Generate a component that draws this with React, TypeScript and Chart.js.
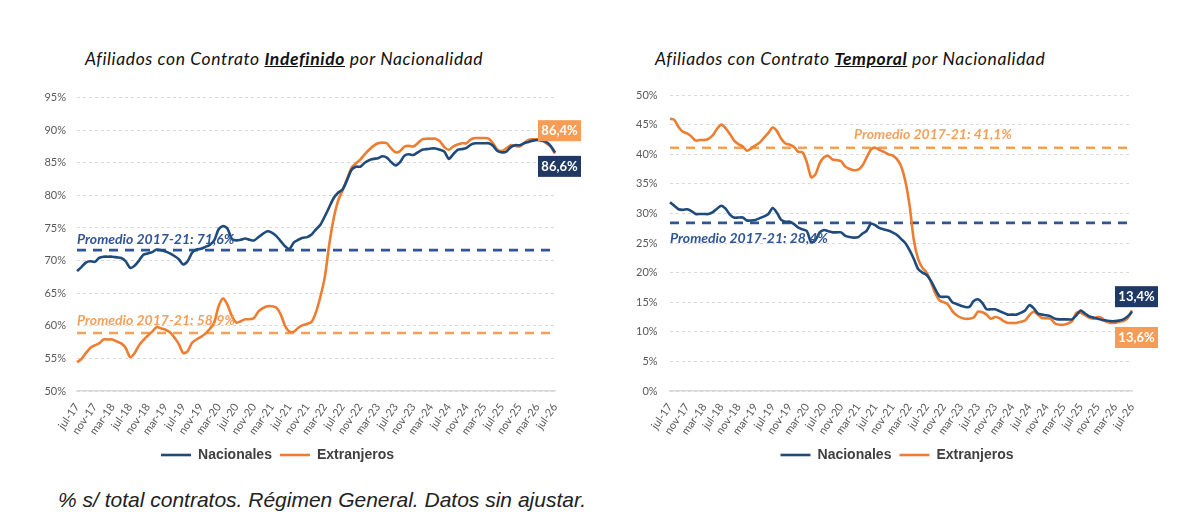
import React, { useEffect, useRef } from 'react';
import { Chart, ChartConfiguration, registerables } from 'chart.js';

Chart.register(...registerables);

// monthly categories jul-17 .. jul-26
const MONTHS = ['ene', 'feb', 'mar', 'abr', 'may', 'jun', 'jul', 'ago', 'sep', 'oct', 'nov', 'dic'];
const categories = Array.from({ length: 109 }, (_, i) => `${MONTHS[(6 + i) % 12]}-${17 + Math.floor((6 + i) / 12)}`);
const TICK_EVERY = 4;

// % of contracts
const indefNacionales = [
  68.4, 69.0, 69.7, 69.9, 69.8, 70.4, 70.6, 70.6, 70.6, 70.5,
  70.4, 69.9, 68.9, 69.2, 70.0, 70.9, 71.1, 71.3, 71.7, 71.6,
  71.4, 71.1, 70.7, 70.2, 69.4, 69.9, 71.2, 71.7, 71.8, 72.1,
  72.4, 73.1, 74.8, 75.3, 74.9, 73.3, 73.1, 73.2, 73.4, 73.2,
  73.1, 73.6, 74.1, 74.5, 74.3, 73.8, 73.0, 72.2, 71.8, 72.8,
  73.2, 73.5, 73.6, 74.0, 74.8, 75.5, 76.8, 78.2, 79.6, 80.4,
  80.9, 82.3, 83.9, 84.4, 84.4, 85.0, 85.4, 85.6, 85.7, 86.0,
  85.8, 85.1, 84.6, 85.1, 86.1, 86.3, 86.2, 86.6, 87.0, 87.1,
  87.2, 87.2, 87.0, 86.7, 85.6, 86.3, 87.0, 87.1, 87.3, 87.8,
  88.0, 88.0, 88.0, 88.0, 87.6, 86.8, 86.6, 86.7, 87.4, 87.7,
  87.7, 88.0, 88.2, 88.4, 88.5, 88.4, 88.2, 87.6, 86.6,
];
const indefExtranjeros = [
  54.4, 54.9, 55.8, 56.6, 57.0, 57.3, 57.9, 57.9, 57.9, 57.6,
  57.3, 56.6, 55.2, 55.8, 57.0, 57.8, 58.5, 59.1, 59.8, 59.6,
  59.4, 59.0, 58.2, 57.2, 55.8, 56.1, 57.4, 57.9, 58.3, 58.8,
  59.5, 60.5, 63.0, 64.2, 63.2, 61.5, 60.5, 60.7, 61.0, 61.0,
  61.2, 62.2, 62.7, 63.0, 63.0, 62.8, 61.8, 60.0, 59.1, 59.1,
  59.7, 60.1, 60.3, 60.6, 62.1, 64.5, 67.5, 72.5, 76.5, 79.2,
  80.8, 82.5, 84.2, 84.9, 85.5, 86.3, 87.0, 87.6, 88.0, 88.1,
  88.0, 87.2, 86.6, 86.8, 87.5, 87.6, 87.5, 88.0, 88.6, 88.7,
  88.7, 88.7, 88.3, 87.4, 87.0, 87.5, 87.8, 88.0, 88.0, 88.6,
  88.8, 88.8, 88.8, 88.7, 88.0, 87.0, 86.8, 87.2, 87.7, 87.6,
  87.5, 88.0, 88.5, 88.6, 88.6, 88.5, 88.0, 87.5, 86.4,
];
const tempNacionales = [
  31.9, 31.3, 30.7, 30.6, 30.7, 30.4, 29.9, 29.9, 29.9, 29.9,
  30.2, 30.8, 31.3, 30.8, 29.8, 29.3, 29.3, 29.3, 28.8, 28.8,
  28.9, 29.2, 29.5, 29.9, 30.9, 30.1, 28.9, 28.6, 28.6, 28.2,
  27.6, 27.3, 27.0, 25.1, 25.5, 26.8, 27.2, 27.0, 26.8, 26.8,
  26.8, 26.2, 26.0, 25.9, 26.0, 26.6, 27.1, 28.3, 28.0, 27.5,
  27.3, 27.1, 26.8, 26.4, 25.7, 25.0, 23.8, 22.3, 20.6, 20.0,
  19.6, 18.6, 17.2, 16.0, 15.9, 15.9, 15.0, 14.7, 14.4, 14.2,
  14.2, 15.2, 15.5, 14.9, 13.8, 13.8, 13.8, 13.5, 13.2, 12.9,
  12.9, 12.9, 13.2, 13.6, 14.5, 14.0, 13.1, 12.9, 12.8, 12.6,
  12.2, 12.1, 12.1, 12.1, 12.1, 12.8, 13.6, 13.1, 12.6, 12.4,
  12.2, 12.0, 11.9, 11.8, 11.8, 11.9, 12.1, 12.6, 13.4,
];
const tempExtranjeros = [
  46.0, 45.8, 44.6, 43.8, 43.5, 43.0, 42.3, 42.4, 42.4, 42.6,
  43.2, 44.3, 45.0, 44.4, 43.4, 42.3, 41.7, 41.3, 40.6, 41.0,
  41.5, 42.0, 42.8, 43.6, 44.5, 43.9, 42.6, 41.8, 41.6, 41.2,
  40.4, 40.3, 38.6, 36.1, 36.6, 38.5, 39.5, 39.7, 39.1, 39.0,
  38.8, 37.9, 37.5, 37.3, 37.4, 38.1, 39.5, 40.8, 41.1, 40.7,
  40.4, 40.0, 39.8, 39.2, 38.0, 35.5, 31.4, 25.5, 22.3, 20.8,
  20.0, 18.4, 16.5, 15.3, 15.0, 14.6, 13.5, 12.8, 12.4, 12.2,
  12.2, 12.4, 13.4, 13.3, 12.9, 12.2, 12.5, 12.3, 11.8, 11.5,
  11.5, 11.5, 11.7, 11.9, 12.8, 13.4, 12.9, 12.3, 12.3, 12.2,
  11.4, 11.2, 11.2, 11.4, 11.8, 13.2, 13.2, 12.8, 12.4, 12.2,
  12.5, 12.3, 11.7, 11.5, 11.5, 11.7, 11.8, 12.3, 13.6,
];

// 2017-21 averages
const indefAvg = { nac: 71.6, ext: 58.9 };
const tempAvg = { nac: 28.4, ext: 41.1 };

const BLUE = '#1f4a7c';
const ORANGE = '#ed7d31';
const BLUE_AVG = '#2f5597';
const ORANGE_AVG = '#f5a05a';
const NAVY_BOX = '#1f3864';
const ORANGE_BOX = '#f59d56';

interface Note {
  text: string;
  value: number;
  color: string;
  index?: number;
  dy: number;
}

interface EndBox {
  text: string;
  dataset: number;
  color: string;
  dy: number;
}

// draws the "Promedio" texts and the end value boxes
const notesPlugin = {
  id: 'notes',
  afterDatasetsDraw(chart: any, _args: any, opts: any) {
    const { ctx, chartArea, scales } = chart;
    ctx.save();
    (opts.notes || []).forEach((n: Note) => {
      ctx.font = 'italic bold 14px Lato';
      ctx.fillStyle = n.color;
      ctx.textAlign = 'left';
      ctx.textBaseline = 'middle';
      const px = n.index != null ? scales.x.getPixelForValue(n.index) : chartArea.left;
      ctx.fillText(n.text, px, scales.y.getPixelForValue(n.value) + n.dy);
    });
    (opts.boxes || []).forEach((b: EndBox) => {
      const pts = chart.getDatasetMeta(b.dataset).data;
      const last = pts[pts.length - 1];
      const bx = last.x - 17;
      const by = last.y + b.dy - 10.5;
      ctx.fillStyle = b.color;
      ctx.fillRect(bx, by, 43, 21);
      ctx.fillStyle = '#ffffff';
      ctx.font = 'bold 13px Lato';
      ctx.textAlign = 'center';
      ctx.fillText(b.text, bx + 21.5, by + 11);
    });
    ctx.restore();
  },
};

interface PanelProps {
  left: number;
  nacionales: number[];
  extranjeros: number[];
  avg: { nac: number; ext: number };
  min: number;
  max: number;
  padding: { left: number; right: number; top: number; bottom: number };
  yWidth: number;
  mirrorTicks?: boolean;
  notes: Note[];
  boxes: EndBox[];
}

const ChartPanel: React.FC<PanelProps> = ({ left, nacionales, extranjeros, avg, min, max, padding, yWidth, mirrorTicks = false, notes, boxes }) => {
  const chartRef = useRef<HTMLCanvasElement | null>(null);

  useEffect(() => {
    if (!chartRef.current) return;
    const lineDs = (label: string, data: number[], color: string) => ({
      label,
      data,
      borderColor: color,
      backgroundColor: color,
      borderWidth: 2.6,
      pointRadius: 0,
      tension: 0.25,
    });
    const avgDs = (value: number, color: string) => ({
      label: 'Promedio',
      data: categories.map(() => value),
      borderColor: color,
      borderWidth: 2.6,
      borderDash: [9, 7],
      pointRadius: 0,
    });

    const config: ChartConfiguration = {
      type: 'line',
      data: {
        labels: categories,
        datasets: [
          lineDs('Nacionales', nacionales, BLUE),
          lineDs('Extranjeros', extranjeros, ORANGE),
          avgDs(avg.nac, BLUE_AVG),
          avgDs(avg.ext, ORANGE_AVG),
        ] as any,
      },
      options: {
        responsive: false,
        animation: false,
        layout: { padding },
        plugins: {
          legend: {
            position: 'bottom',
            labels: {
              filter: (item: any) => item.datasetIndex < 2,
              usePointStyle: true,
              pointStyle: 'line',
              pointStyleWidth: 30,
              boxHeight: 3,
              color: '#404040',
              padding: 8,
              font: { family: 'Liberation Sans', size: 14, weight: 'bold' },
            },
          },
          tooltip: { enabled: false },
          notes: { notes, boxes },
        } as any,
        scales: {
          x: {
            grid: { display: false },
            border: { display: true, color: '#d9d9d9', width: 1.5 },
            afterFit: (scale: any) => {
              scale.height = 49;
            },
            ticks: {
              autoSkip: false,
              minRotation: 55,
              maxRotation: 55,
              padding: 2,
              color: '#595959',
              font: { family: 'Lato', size: 11 },
              callback: (_v: any, i: number) => (i % TICK_EVERY === 0 ? categories[i] : ''),
            },
          },
          y: {
            min,
            max,
            afterFit: (scale: any) => {
              scale.width = yWidth;
            },
            grid: { color: '#d9d9d9', drawTicks: false },
            border: { display: false, dash: [3, 3] },
            ticks: {
              stepSize: 5,
              // mirrored ticks are not clipped to the (narrow) axis box
              mirror: mirrorTicks,
              crossAlign: mirrorTicks ? 'far' : 'near',
              padding: mirrorTicks ? -34 : 11,
              color: '#595959',
              font: { family: 'Lato', size: 11 },
              callback: (v: any) => `${v}%`,
            },
          },
        },
      },
      plugins: [notesPlugin as any],
    };

    const chart = new Chart(chartRef.current, config);
    return () => chart.destroy();
  }, [nacionales, extranjeros, avg, min, max, padding, yWidth, mirrorTicks, notes, boxes]);

  return (
    <canvas
      ref={chartRef}
      width={600}
      height={392}
      style={{ position: 'absolute', left, top: 80, width: 600, height: 392 }}
    />
  );
};

const titleStyle: React.CSSProperties = {
  position: 'absolute',
  top: 48,
  font: 'italic 17.5px Lato',
  letterSpacing: '0.6px',
  color: '#111',
  whiteSpace: 'nowrap',
};

const fmt = (v: number) => `${v.toFixed(1).replace('.', ',')}%`;

export default function App() {
  const last = indefNacionales.length - 1;
  return (
    <div style={{ position: 'fixed', left: 0, top: 0, width: 1200, height: 528, background: '#fff', overflow: 'hidden' }}>
      <div style={{ ...titleStyle, left: 85 }}>
        Afiliados con Contrato <b><u>Indefinido</u></b> por Nacionalidad
      </div>
      <div style={{ ...titleStyle, left: 655 }}>
        Afiliados con Contrato <b><u>Temporal</u></b> por Nacionalidad
      </div>
      <ChartPanel
        left={0}
        nacionales={indefNacionales}
        extranjeros={indefExtranjeros}
        avg={indefAvg}
        min={50}
        max={95}
        padding={{ left: 0, right: 45, top: 12, bottom: 0 }}
        yWidth={77}
        notes={[
          { text: `Promedio 2017-21: ${fmt(indefAvg.nac)}`, value: indefAvg.nac, color: BLUE_AVG, dy: -11 },
          { text: `Promedio 2017-21: ${fmt(indefAvg.ext)}`, value: indefAvg.ext, color: ORANGE_AVG, dy: -12 },
        ]}
        boxes={[
          { text: fmt(indefExtranjeros[last]), dataset: 1, color: ORANGE_BOX, dy: -23 },
          { text: fmt(indefNacionales[last]), dataset: 0, color: NAVY_BOX, dy: 14 },
        ]}
      />
      <ChartPanel
        left={600}
        nacionales={tempNacionales}
        extranjeros={tempExtranjeros}
        avg={tempAvg}
        min={0}
        max={50}
        padding={{ left: 62, right: 68, top: 15, bottom: 0 }}
        yWidth={8}
        mirrorTicks
        notes={[
          { text: `Promedio 2017-21: ${fmt(tempAvg.ext)}`, value: tempAvg.ext, color: ORANGE_AVG, index: 43, dy: -13 },
          { text: `Promedio 2017-21: ${fmt(tempAvg.nac)}`, value: tempAvg.nac, color: BLUE_AVG, dy: 16 },
        ]}
        boxes={[
          { text: fmt(tempNacionales[last]), dataset: 0, color: NAVY_BOX, dy: -15 },
          { text: fmt(tempExtranjeros[last]), dataset: 1, color: ORANGE_BOX, dy: 27 },
        ]}
      />
      <div
        style={{
          position: 'absolute',
          left: 58,
          top: 488,
          font: 'italic 21px "Liberation Sans"',
          color: '#222',
          whiteSpace: 'nowrap',
        }}
      >
        % s/ total contratos. Régimen General. Datos sin ajustar.
      </div>
    </div>
  );
}
